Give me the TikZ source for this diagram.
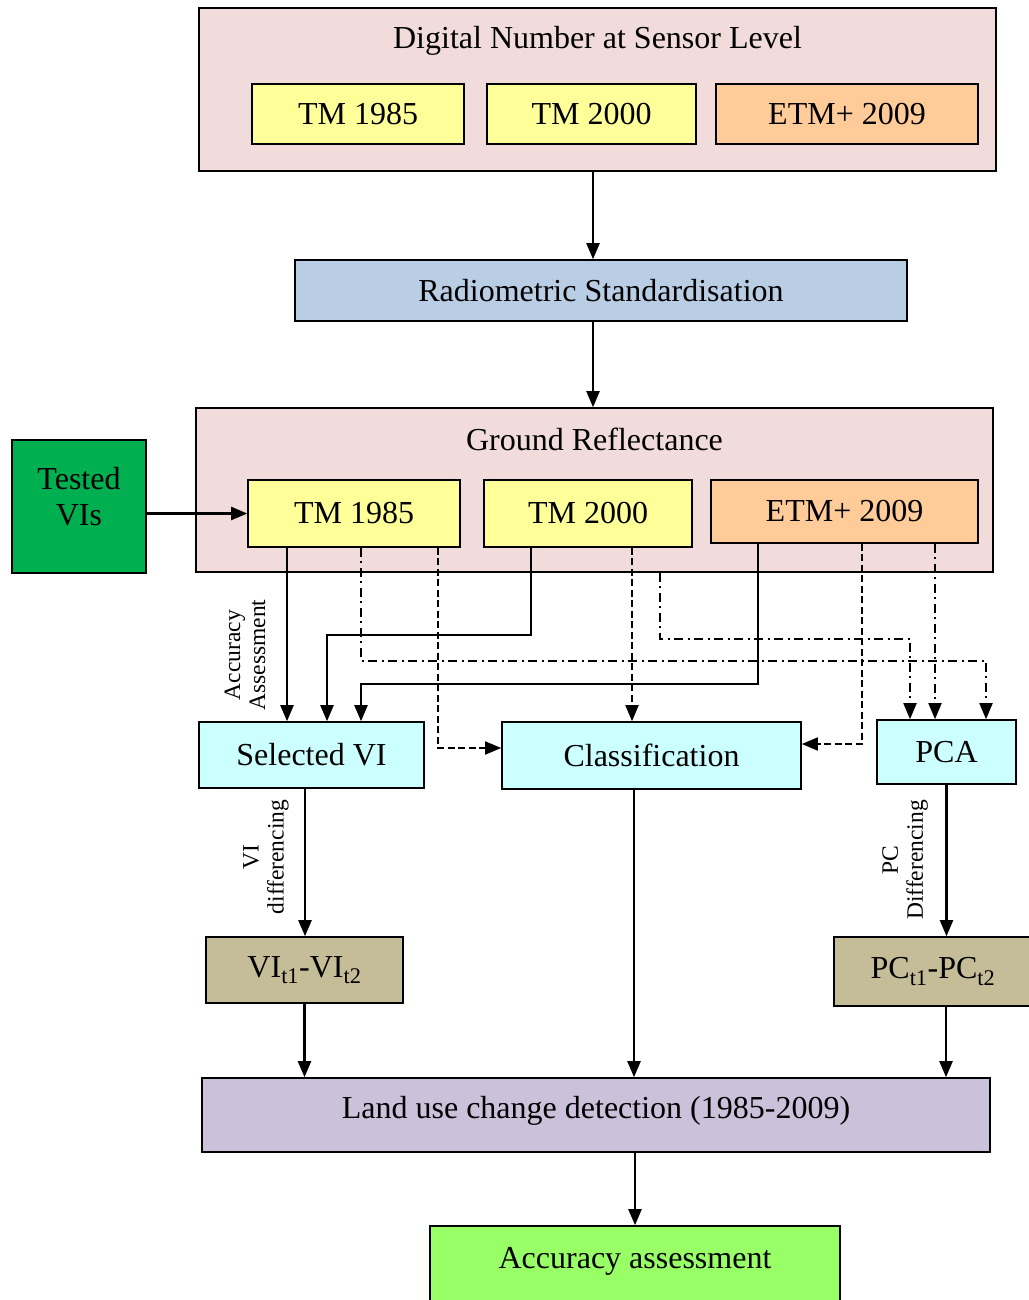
\documentclass[tikz,border=0pt]{standalone}
\usepackage{fontspec}
\setmainfont{Liberation Serif}
\usepackage{tikz}
\usetikzlibrary{arrows.meta, positioning, calc}

\definecolor{pinkbg}{HTML}{F2DCDB}
\definecolor{yellowbx}{HTML}{FFFF99}
\definecolor{orangebx}{HTML}{FFCC99}
\definecolor{bluebx}{HTML}{B9CDE5}
\definecolor{greenbx}{HTML}{00B050}
\definecolor{cyanbx}{HTML}{CCFFFF}
\definecolor{tanbx}{HTML}{C4BD97}
\definecolor{lilacbx}{HTML}{CCC1DA}
\definecolor{limebx}{HTML}{99FF66}

\begin{document}
\begin{tikzpicture}[x=1pt,y=-1pt]
\tikzset{box/.style={
    draw, line width=1.6pt,
    inner sep=0pt,
    align=center,
    font=\fontsize{32}{36}\selectfont
  },
  title/.style={anchor=center, align=center, font=\fontsize{32}{36}\selectfont},
  conn/.style={line width=2.2pt, -{Triangle[length=16pt,width=13pt]}},
  dashconn/.style={conn, line width=1.8pt, dash pattern=on 7pt off 3.5pt},
  dotconn/.style={conn, line width=1.8pt, dash pattern=on 9pt off 4.5pt on 2pt off 4.5pt},
  side/.style={rotate=90, align=center, font=\fontsize{23.5}{25}\selectfont}
}
\useasboundingbox (0,0) rectangle (1028,1300);

% sensor level
\node[box, fill=pinkbg, minimum width=797, minimum height=163,
  label={[title, yshift=-34pt]north:Digital Number at Sensor Level}] (dn) at (597.5,89.5) {};
\node[box, fill=yellowbx, minimum width=212, minimum height=60] (t85a) at (358,114) {TM 1985};
\node[box, fill=yellowbx, minimum width=209, minimum height=60] (t00a) at (591.5,114) {TM 2000};
\node[box, fill=orangebx, minimum width=262, minimum height=60] (etma) at (847,114) {ETM+ 2009};

\node[box, fill=bluebx, minimum width=612, minimum height=61] (rs) at (601,290.5) {Radiometric Standardisation};

% ground reflectance
\node[box, fill=pinkbg, minimum width=797, minimum height=164,
  label={[title, yshift=-32pt]north:Ground Reflectance}] (gr) at (594.5,490) {};
\node[box, fill=yellowbx, minimum width=212, minimum height=67] (t85) at (354,513.5) {TM 1985};
\node[box, fill=yellowbx, minimum width=208, minimum height=67] (t00) at (588,513.5) {TM 2000};
\node[box, fill=orangebx, minimum width=267, minimum height=63] (etm) at (844.5,511.5) {ETM+ 2009};

\node[box, fill=greenbx, minimum width=134, minimum height=133,
  label={[title, yshift=10pt]center:Tested\\VIs}] (tv) at (79,506.5) {};

% methods
\node[box, fill=cyanbx, minimum width=225, minimum height=66] (svi) at (311.5,755) {Selected VI};
\node[box, fill=cyanbx, minimum width=299, minimum height=67] (cls) at (651.5,755.5) {Classification};
\node[box, fill=cyanbx, minimum width=139, minimum height=64] (pca) at (946.5,752) {PCA};

\node[box, fill=tanbx, minimum width=197, minimum height=66] (vid) at (304.5,970) {VI\textsubscript{t1}-VI\textsubscript{t2}};
\node[box, fill=tanbx, minimum width=198, minimum height=69] (pcd) at (933,971.5) {PC\textsubscript{t1}-PC\textsubscript{t2}};

\node[box, fill=lilacbx, minimum width=788, minimum height=74,
  label={[title, yshift=4pt]center:Land use change detection (1985-2009)}] (luc) at (596,1115) {};
\node[box, fill=limebx, minimum width=410, minimum height=100,
  label={[title, yshift=-36pt]north:Accuracy assessment}] (acc) at (635,1276) {};

% side labels
\node[side] (aalbl) at (245,655) {Accuracy\\Assessment};
\node[side] (vilbl) at (266,857) {VI\\differencing};
\node[side] (pclbl) at (905,860) {PC\\Differencing};

% top flow
\draw[conn] ([xshift=-4.5pt]dn.south) -- ([xshift=-4.5pt]dn.south |- rs.north);
\draw[conn] ([xshift=-8pt]rs.south) -- ([xshift=-8pt]rs.south |- gr.north);
\draw[conn] (tv.east |- t85.west) -- (t85.west);

% to selected VI
\draw[conn] ([xshift=-67pt]t85.south) -- ([xshift=-67pt]t85.south |- svi.north);
\draw[conn] ([xshift=-57pt]t00.south) -- ++(0,87) -| ([xshift=15.5pt]svi.north);
\draw[conn] ([xshift=-86.5pt]etm.south) -- ++(0,140) -| ([xshift=49.5pt]svi.north);

% to classification
\draw[dashconn] ([xshift=84pt]t85.south) |- ([yshift=7.5pt]cls.west);
\draw[dashconn] ([xshift=44pt]t00.south) -- ([xshift=44pt]t00.south |- cls.north);
\draw[dashconn] ([xshift=17.5pt]etm.south) |- ([yshift=11.5pt]cls.east);

% to PCA
\draw[dotconn] ([xshift=7pt]t85.south) -- ++(0,113) -| ([xshift=39.5pt]pca.north);
\draw[dotconn] ([xshift=65.5pt]gr.south) -- ++(0,66) -| ([xshift=-36.5pt]pca.north);
\draw[dotconn] ([xshift=90.5pt]etm.south) -- ([xshift=90.5pt]etm.south |- pca.north);

% lower flow
\draw[conn] ([xshift=-6.5pt]svi.south) -- ([xshift=-6.5pt]svi.south |- vid.north);
\draw[conn] (pca.south) -- (pca.south |- pcd.north);
\draw[conn] (vid.south) -- (vid.south |- luc.north);
\draw[conn] ([xshift=-17.5pt]cls.south) -- ([xshift=-17.5pt]cls.south |- luc.north);
\draw[conn] ([xshift=13pt]pcd.south) -- ([xshift=13pt]pcd.south |- luc.north);
\draw[conn] ([xshift=39pt]luc.south) -- ([xshift=39pt]luc.south |- acc.north);

\end{tikzpicture}
\end{document}
